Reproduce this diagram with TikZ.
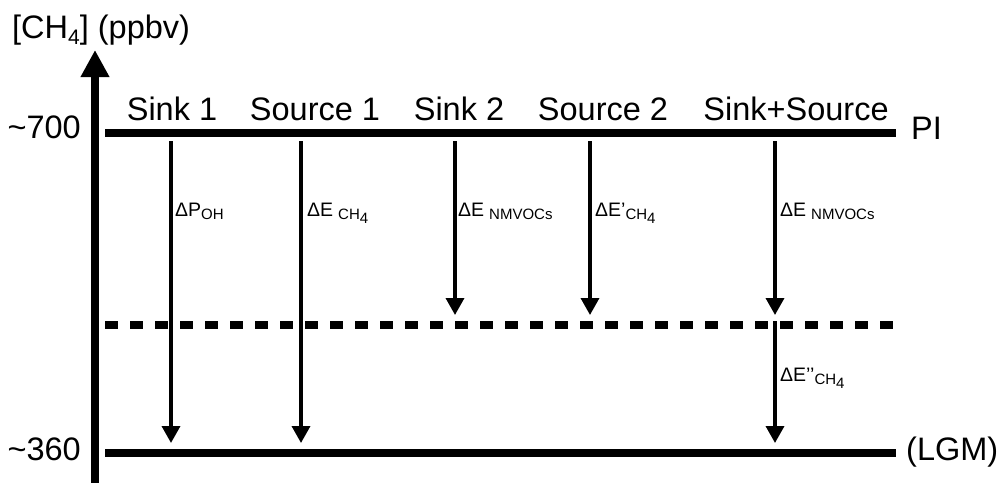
\documentclass[tikz,border=0pt]{standalone}
\usepackage{fontspec}
\setmainfont{Liberation Sans}
\usetikzlibrary{arrows.meta}
\newcommand{\dlab}[3]{{\fontsize{19.5}{19.5}\selectfont #1}{\fontsize{15}{15}\selectfont\raisebox{-3.5pt}{#2\raisebox{-4pt}{#3}}}}
\begin{document}
\begin{tikzpicture}[x=1pt,y=-1pt,
  level/.style={line width=8pt},
  flux/.style={line width=3.5pt,-{Triangle[width=18pt,length=17pt]}},
  bigtxt/.style={font=\fontsize{32.5}{32.5}\selectfont, inner sep=0pt},
  smalltxt/.style={inner sep=0pt, anchor=base west}]
\fill[white] (0,0) rectangle (1001,482);
\useasboundingbox (0,0) rectangle (1001,482);

% axis
\coordinate (axB) at (95,490);
\coordinate (axT) at (95,50);
\draw[line width=8pt,-{Triangle[width=27pt,length=27pt]}] (axB) -- (axT);

% levels
\coordinate (piL) at (105,133); \coordinate (piR) at (896,133);
\coordinate (dL) at (105,325); \coordinate (dR) at (893,325);
\coordinate (lL) at (105,453); \coordinate (lR) at (896,453);
\draw[level] (piL) -- (piR);
\draw[level] (lL) -- (lR);
\draw[level, dash pattern=on 13pt off 12pt] (dL) -- (dR);

% arrows
\coordinate (a1s) at (171,141); \coordinate (a1e) at (171,443);
\coordinate (a2s) at (301,141); \coordinate (a2e) at (301,443);
\coordinate (a3s) at (455,141); \coordinate (a3e) at (455,315);
\coordinate (a4s) at (590,141); \coordinate (a4e) at (590,315);
\coordinate (a5s) at (775,141); \coordinate (a5e) at (775,315);
\coordinate (a6s) at (775,321); \coordinate (a6e) at (775,443);
\draw[flux] (a1s) -- (a1e);
\draw[flux] (a2s) -- (a2e);
\draw[flux] (a3s) -- (a3e);
\draw[flux] (a4s) -- (a4e);
\draw[flux] (a5s) -- (a5e);
\draw[flux] (a6s) -- (a6e);

% big texts
\node[bigtxt, anchor=base west] (ylab) at (12,38) {[CH{\fontsize{21}{21}\selectfont\raisebox{-6pt}{4}}] (ppbv)};
\node[bigtxt, anchor=base east] (v700) at (81,138) {\textasciitilde 700};
\node[bigtxt, anchor=base east] (v360) at (81,460) {\textasciitilde 360};
\node[bigtxt, anchor=base west] (pi) at (911,139) {PI};
\node[bigtxt, anchor=base west] (lgm) at (906,460) {(LGM)};
\node[bigtxt, anchor=base] (t1) at (172,120) {Sink 1};
\node[bigtxt, anchor=base] (t2) at (315,120) {Source 1};
\node[bigtxt, anchor=base] (t3) at (459,120) {Sink 2};
\node[bigtxt, anchor=base] (t4) at (603,120) {Source 2};
\node[bigtxt, anchor=base] (t5) at (796,120) {Sink+Source};

% small labels
\node[smalltxt] (l1) at (175,216) {\dlab{ΔP}{OH}{}};
\node[smalltxt] (l2) at (307,216) {\dlab{ΔE\hspace{5pt}}{CH}{4}};
\node[smalltxt] (l3) at (458,216) {\dlab{ΔE\hspace{5pt}}{NMVOCs}{}};
\node[smalltxt] (l4) at (595,216) {\dlab{ΔE’}{CH}{4}};
\node[smalltxt] (l5) at (780,216) {\dlab{ΔE\hspace{5pt}}{NMVOCs}{}};
\node[smalltxt] (l6) at (780,381) {\dlab{ΔE’’}{CH}{4}};
\end{tikzpicture}
\end{document}
